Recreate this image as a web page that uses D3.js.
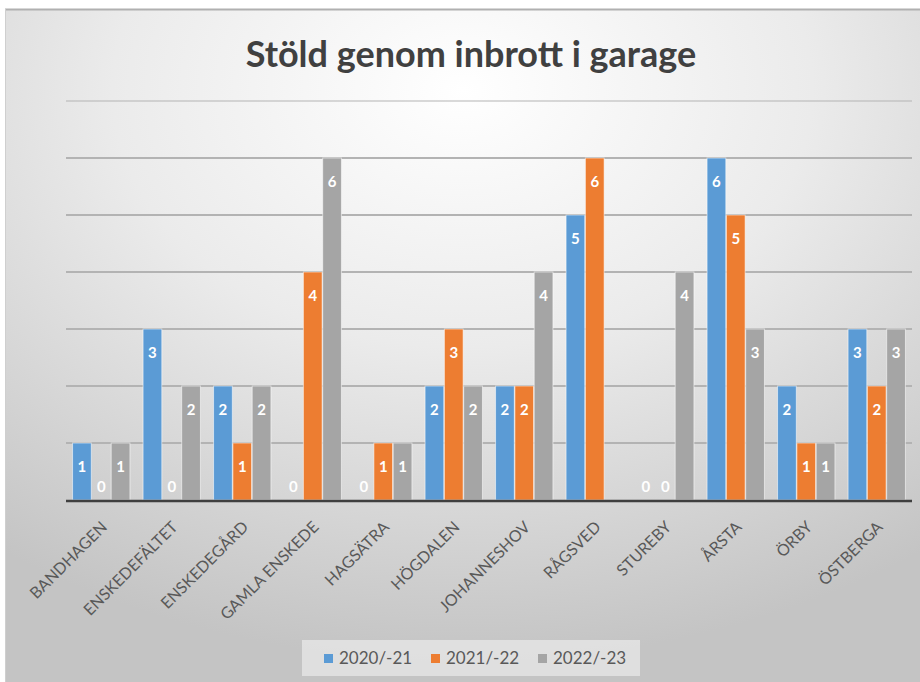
<!DOCTYPE html>
<html>
<head>
<meta charset="utf-8">
<title>Stöld genom inbrott i garage</title>
<style>
body { margin: 0; background: #fff; }
svg { display: block; font-family: Lato, "Open Sans", sans-serif; }
.grid line { stroke: #b3b3b3; stroke-width: 2px; }
.xlab { fill: #595959; font-size: 16px; }
.val { fill: #fff; font-size: 15px; font-weight: bold; text-anchor: middle; }
.legend text { fill: #595959; font-size: 17px; }
</style>
</head>
<body>
<script src="https://cdnjs.cloudflare.com/ajax/libs/d3/7.8.5/d3.min.js"></script>
<script>
const categories = ['BANDHAGEN', 'ENSKEDEFÄLTET', 'ENSKEDEGÅRD', 'GAMLA ENSKEDE', 'HAGSÄTRA', 'HÖGDALEN',
    'JOHANNESHOV', 'RÅGSVED', 'STUREBY', 'ÅRSTA', 'ÖRBY', 'ÖSTBERGA'];
const seriesNames = ['2020/-21', '2021/-22', '2022/-23'];
const values2020 = [1, 3, 2, 0, 0, 2, 2, 5, 0, 6, 2, 3];
const values2021 = [0, 0, 1, 4, 1, 3, 2, 6, 0, 5, 1, 2];
const values2022 = [1, 2, 2, 6, 1, 2, 4, null, 4, 3, 1, 3];
const colors = ['#5b9bd5', '#ed7d31', '#a5a5a5'];
const yTicks = [0, 1, 2, 3, 4, 5, 6, 7];

const W = 920, H = 682;
const margin = {top: 101, right: 8, bottom: 182, left: 66};

const svg = d3.select('body').append('svg').attr('width', W).attr('height', H);

const defs = svg.append('defs');
const grad = defs.append('radialGradient').attr('id', 'bg')
    .attr('cx', '50%').attr('cy', '12%').attr('r', '85%');
grad.append('stop').attr('offset', '0%').attr('stop-color', '#ffffff');
grad.append('stop').attr('offset', '45%').attr('stop-color', '#ebebeb');
grad.append('stop').attr('offset', '100%').attr('stop-color', '#c4c4c4');

svg.append('rect').attr('x', 5).attr('y', 9).attr('width', W - 5).attr('height', H - 9)
    .attr('fill', 'url(#bg)');
svg.append('line').attr('x1', 5).attr('x2', W).attr('y1', 9.5).attr('y2', 9.5)
    .attr('stroke', '#b0b0b0').attr('stroke-width', 2);
svg.append('line').attr('x1', 5.5).attr('x2', 5.5).attr('y1', 9).attr('y2', H)
    .attr('stroke', '#cfcfcf').attr('stroke-width', 1);

svg.append('text').attr('x', 471).attr('y', 67).attr('text-anchor', 'middle')
    .attr('fill', '#404040').attr('font-size', '36px').attr('font-weight', 'bold')
    .text('Stöld genom inbrott i garage');

const x0 = d3.scaleBand().domain(categories).range([margin.left, W - margin.right]).paddingInner(0.17).paddingOuter(0.085);
const x1 = d3.scaleBand().domain(seriesNames).range([0, x0.bandwidth()]).padding(0.03);
const y = d3.scaleLinear().domain([0, 7]).range([H - margin.bottom, margin.top]);

svg.append('g').attr('class', 'grid').selectAll('line').data(yTicks.slice(1)).join('line')
    .attr('x1', margin.left).attr('x2', W - margin.right)
    .attr('y1', d => y(d)).attr('y2', d => y(d))
    .attr('stroke-opacity', d => d === 7 ? 0.5 : 1);

const table = categories.map((c, i) => ({
    cat: c,
    vals: [values2020[i], values2021[i], values2022[i]].map((v, j) => ({s: seriesNames[j], v, j}))
}));

const groups = svg.append('g').selectAll('g').data(table).join('g')
    .attr('transform', d => `translate(${x0(d.cat)},0)`);

groups.selectAll('rect').data(d => d.vals.filter(e => e.v !== null)).join('rect')
    .attr('x', d => x1(d.s)).attr('width', x1.bandwidth())
    .attr('y', d => y(d.v)).attr('height', d => y(0) - y(d.v))
    .attr('fill', d => colors[d.j])
    .attr('stroke', 'rgba(255,255,255,0.55)').attr('stroke-width', 1);

groups.selectAll('text').data(d => d.vals.filter(e => e.v !== null)).join('text')
    .attr('class', 'val')
    .attr('x', d => x1(d.s) + x1.bandwidth() / 2)
    .attr('y', d => d.v === 0 ? y(0) - 8 : y(d.v) + 29)
    .text(d => d.v);

svg.append('line').attr('x1', margin.left).attr('x2', W - margin.right)
    .attr('y1', y(0) + 1).attr('y2', y(0) + 1)
    .attr('stroke', '#3f3f3f').attr('stroke-width', 2.5);

svg.append('g').selectAll('text').data(categories).join('text')
    .attr('class', 'xlab')
    .attr('text-anchor', 'end')
    .attr('transform', d => `translate(${x0(d) + x0.bandwidth() / 2 + 7},${y(0) + 28}) rotate(-45)`)
    .text(d => d);

const legend = svg.append('g').attr('class', 'legend');
legend.append('rect').attr('x', 302).attr('y', 640).attr('width', 338).attr('height', 36)
    .attr('fill', 'rgba(235,235,235,0.7)');
const lx = [324, 431, 538];
const items = legend.selectAll('g').data(seriesNames).join('g')
    .attr('transform', (d, i) => `translate(${lx[i]},658)`);
items.append('rect').attr('x', 0).attr('y', -4).attr('width', 9).attr('height', 9)
    .attr('fill', (d, i) => colors[i]);
items.append('text').attr('x', 15).attr('y', 6).text(d => d);
</script>
</body>
</html>
